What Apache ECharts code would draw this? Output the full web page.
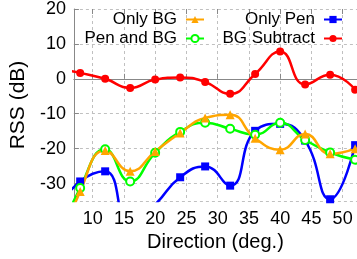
<!DOCTYPE html>
<html>
<head>
<meta charset="utf-8">
<script src="https://cdn.jsdelivr.net/npm/echarts@6/dist/echarts.min.js"></script>
<style>
html,body{margin:0;padding:0;background:#fff;}
#chart{width:357px;height:259px;}
</style>
</head>
<body>
<div id="chart"></div>
<script>
// Direction (deg.) of each measurement (the 4 deg point lies left of the visible axis)
var directions = [4, 8, 12, 16, 20, 24, 28, 32, 36, 40, 44, 48, 52];
// RSS (dB) per series
var onlyBG     = [-52, -32.3, -20.5, -26.5, -20.8, -15.5, -11.2, -10.3, -17.0, -20.3, -15.8, -21.5, -20.0];
var onlyPen    = [-38, -29.4, -26.5, -42.0, -36.0, -28.2, -25.1, -30.6, -14.9, -12.9, -17.7, -34.5, -19.0];
var penAndBG   = [-48, -31.3, -20.2, -29.4, -21.2, -15.2, -12.6, -14.3, -16.0, -12.6, -17.5, -21.1, -23.2];
var bgSubtract = [3, 1.7, 0.0, -2.6, -0.2, 0.4, -0.9, -4.3, 1.4, 7.8, -1.6, 1.2, -3.1];

var seriesNames = ['Only BG', 'Only Pen', 'Pen and BG', 'BG Subtract'];

function pairs(vals) {
  return directions.map(function (d, i) { return [d, vals[i]]; });
}

var FONT = "'Liberation Sans', Arial, sans-serif";
var AXIS_COLOR = '#888888';

function legendAt(name, right, top) {
  return {
    data: [name],
    right: right,
    top: top,
    align: 'right',
    padding: 0,
    itemWidth: 18,
    itemHeight: 9,
    textStyle: { fontFamily: FONT, fontSize: 17, color: '#000', padding: [0, 4, 0, 0] }
  };
}

var chart = echarts.init(document.getElementById('chart'), null, { renderer: 'canvas' });
chart.setOption({
  animation: false,
  backgroundColor: '#fff',
  grid: { left: 73, right: 0, top: 9, bottom: 58, containLabel: false },
  legend: [
    legendAt(seriesNames[0], 152, 11),
    legendAt(seriesNames[2], 152, 30),
    legendAt(seriesNames[1], 14, 11),
    legendAt(seriesNames[3], 14, 30)
  ],
  xAxis: [{
    type: 'value',
    min: 7,
    max: 52.3,
    splitNumber: 9,
    position: 'bottom',
    name: 'Direction (deg.)',
    nameLocation: 'middle',
    nameGap: 28,
    nameTextStyle: { fontFamily: FONT, fontSize: 20, color: '#000' },
    axisLine: { show: true, lineStyle: { color: AXIS_COLOR, width: 1 } },
    axisTick: { show: true, inside: true, length: 5, lineStyle: { color: AXIS_COLOR } },
    axisLabel: { show: true, margin: 9, fontFamily: FONT, fontSize: 18, color: '#000', showMinLabel: false, showMaxLabel: false },
    splitLine: { show: true, lineStyle: { color: '#c0c0c0', type: [3, 3], width: 1 } }
  }, {
    type: 'value',
    min: 7,
    max: 52.3,
    splitNumber: 9,
    position: 'top',
    axisLine: { show: false },
    axisTick: { show: true, inside: true, length: 5, lineStyle: { color: AXIS_COLOR } },
    axisLabel: { show: false },
    splitLine: { show: false }
  }],
  yAxis: {
    type: 'value',
    min: -35,
    max: 20,
    splitNumber: 5,
    name: 'RSS (dB)',
    nameLocation: 'middle',
    nameGap: 36,
    nameTextStyle: { fontFamily: FONT, fontSize: 21, color: '#000' },
    axisLine: { show: true, lineStyle: { color: AXIS_COLOR, width: 1 } },
    axisTick: { show: true, inside: true, length: 5, lineStyle: { color: AXIS_COLOR } },
    axisLabel: { show: true, margin: 8, fontFamily: FONT, fontSize: 18, color: '#000', showMinLabel: false },
    splitLine: { show: true, lineStyle: { color: '#c0c0c0', type: [3, 3], width: 1 } }
  },
  series: [
    {
      name: 'Only Pen', type: 'line', data: pairs(onlyPen), smooth: true, clip: true,
      symbol: 'rect', symbolSize: 8,
      lineStyle: { color: '#0000ff', width: 2.5 },
      itemStyle: { color: '#0000ff' }
    },
    {
      name: 'Pen and BG', type: 'line', data: pairs(penAndBG), smooth: true, clip: true,
      symbol: 'emptyCircle', symbolSize: 8,
      lineStyle: { color: '#00ff00', width: 2.5 },
      itemStyle: { color: '#00ff00', borderColor: '#00ff00', borderWidth: 1.5 }
    },
    {
      name: 'Only BG', type: 'line', data: pairs(onlyBG), smooth: true, clip: true,
      symbol: 'triangle', symbolSize: 9,
      lineStyle: { color: '#ffa500', width: 2.5 },
      itemStyle: { color: '#ffa500' }
    },
    {
      name: 'BG Subtract', type: 'line', data: pairs(bgSubtract), smooth: true, clip: true,
      symbol: 'circle', symbolSize: 8,
      lineStyle: { color: '#ff0000', width: 2.5 },
      itemStyle: { color: '#ff0000' }
    }
  ]
});
</script>
</body>
</html>
